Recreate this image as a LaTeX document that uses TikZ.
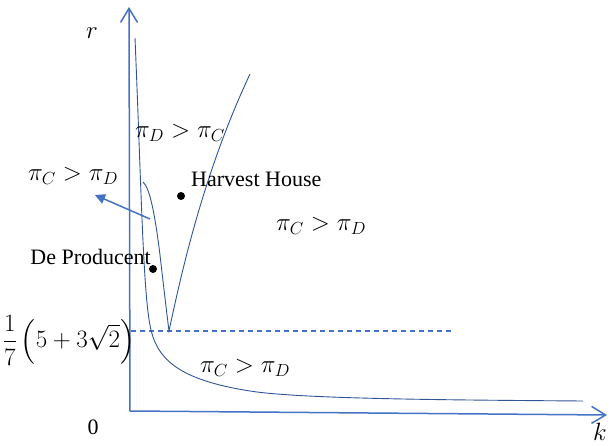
\RequirePackage{fix-cm}
\documentclass[tikz,border=0pt]{standalone}
\usepackage{amsmath}
\usepackage{fontspec}
\setmainfont{Liberation Serif}
\usetikzlibrary{arrows.meta}
\definecolor{axisblue}{RGB}{68,114,196}
\definecolor{curveblue}{RGB}{47,85,151}
\begin{document}
\begin{tikzpicture}[x=1pt,y=-1pt,
    axis/.style={draw=axisblue,line width=1.5pt,-{Straight Barb[length=14pt,width=17pt,line width=1.5pt]}},
    curve/.style={draw=curveblue,line width=0.9pt},
    lbl/.style={font=\fontsize{22}{26}\selectfont,inner sep=0pt},
    mlbl/.style={font=\fontsize{25}{30}\selectfont,inner sep=0pt},
    firm/.style={circle,fill=black,inner sep=0pt,minimum size=8pt}]
  \useasboundingbox (0,0) rectangle (611,446);
  % axes
  \coordinate (origin) at (130,411);
  \coordinate (rtop) at (129,7);
  \coordinate (kend) at (607,415);
  \draw[axis] (origin) -- (rtop);
  \draw[axis] (origin) -- (kend);
  \node[mlbl] (rlabel) at (92,33) {$r$};
  \node[mlbl] (klabel) at (600,432) {$k$};
  \node[lbl] (zero) at (93,427) {0};
  % threshold
  \coordinate (dashstart) at (131,331);
  \coordinate (dashend) at (454,331);
  \draw[draw=axisblue,line width=1.3pt,dash pattern=on 5pt off 4pt] (dashstart) -- (dashend);
  \node[mlbl] (threshold) at (69,340) {$\displaystyle\frac{1}{7}\left(5+3\sqrt{2}\right)$};
  % boundaries
  \draw[curve] (135,38) .. controls (141,180) and (143,290) .. (150,325)
    .. controls (156,360) and (180,380) .. (250,391)
    .. controls (300,399) and (450,400) .. (583,401);
  \draw[curve] (143,182) .. controls (150,188) and (155,215) .. (160,255)
    .. controls (164,290) and (167,315) .. (169,331)
    .. controls (183,265) and (205,170) .. (250,74);
  % regions
  \node[mlbl] (topregion) at (180,133) {$\pi_D > \pi_C$};
  \node[mlbl] (leftregion) at (73,176) {$\pi_C > \pi_D$};
  \node[mlbl] (rightregion) at (321,226) {$\pi_C > \pi_D$};
  \node[mlbl] (lowregion) at (245,368) {$\pi_C > \pi_D$};
  \coordinate (pointerstart) at (150,219);
  \coordinate (pointerend) at (95,195);
  \draw[draw=axisblue,line width=1.5pt,-{Triangle[length=10pt,width=10pt]}] (pointerstart) -- (pointerend);
  % firms
  \node[firm] (harvest) at (181,196) {};
  \node[lbl,anchor=west] (harvestlabel) at (191,179) {Harvest House};
  \node[firm] (producent) at (153,269) {};
  \node[lbl,anchor=east] (producentlabel) at (151,257) {De Producent};
\end{tikzpicture}
\end{document}
